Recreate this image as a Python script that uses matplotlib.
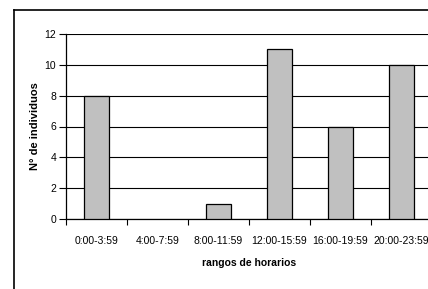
import numpy as np
from matplotlib import pyplot as plt
from matplotlib.lines import Line2D

rangos = ['0:00-3:59', '4:00-7:59', '8:00-11:59', '12:00-15:59', '16:00-19:59', '20:00-23:59']
individuos = [8, 0, 1, 11, 6, 10]

plt.rcParams['font.family'] = ['Liberation Sans', 'DejaVu Sans']

fig = plt.figure(figsize=(4.28, 2.89), dpi=100)
# marco exterior (solo se ven el borde izquierdo y el superior)
izq = 14 / 428
top = 1 - 9.5 / 289
fig.add_artist(Line2D([izq, izq], [0, top], transform=fig.transFigure, color='black', linewidth=1.2))
fig.add_artist(Line2D([izq, 1], [top, top], transform=fig.transFigure, color='black', linewidth=1.2))

ax = fig.add_axes([66 / 428, 1 - 219 / 289, 366 / 428, 185 / 289])
index = np.arange(len(rangos))
bordes = ['black' if v > 0 else 'none' for v in individuos]
ax.bar(index, individuos, width=0.41, color='#c0c0c0', edgecolor=bordes, linewidth=0.9, zorder=3)

ax.set_xlim(-0.5, len(rangos) - 0.5)
ax.set_ylim(0, 12)
ax.set_yticks(np.arange(0, 13, 2))
ax.yaxis.grid(True, color='black', linewidth=0.8)
ax.set_axisbelow(True)

ax.set_xticks(index)
ax.set_xticklabels(rangos, fontsize=7.5)
ax.set_xticks(np.arange(-0.5, len(rangos)), minor=True)
ax.tick_params(axis='x', which='major', length=0, pad=12)
ax.tick_params(axis='x', which='minor', length=4, width=0.8, direction='out')
ax.tick_params(axis='y', labelsize=7.5, length=5, width=0.8, pad=2)

for s in ['top', 'right']:
    ax.spines[s].set_visible(False)
for s in ['left', 'bottom']:
    ax.spines[s].set_linewidth(0.9)

ax.set_ylabel('N° de individuos', fontsize=8, fontweight='bold', labelpad=3)
ax.set_xlabel('rangos de horarios', fontsize=7.5, fontweight='bold', labelpad=9)

plt.savefig('out.png', dpi=100)
